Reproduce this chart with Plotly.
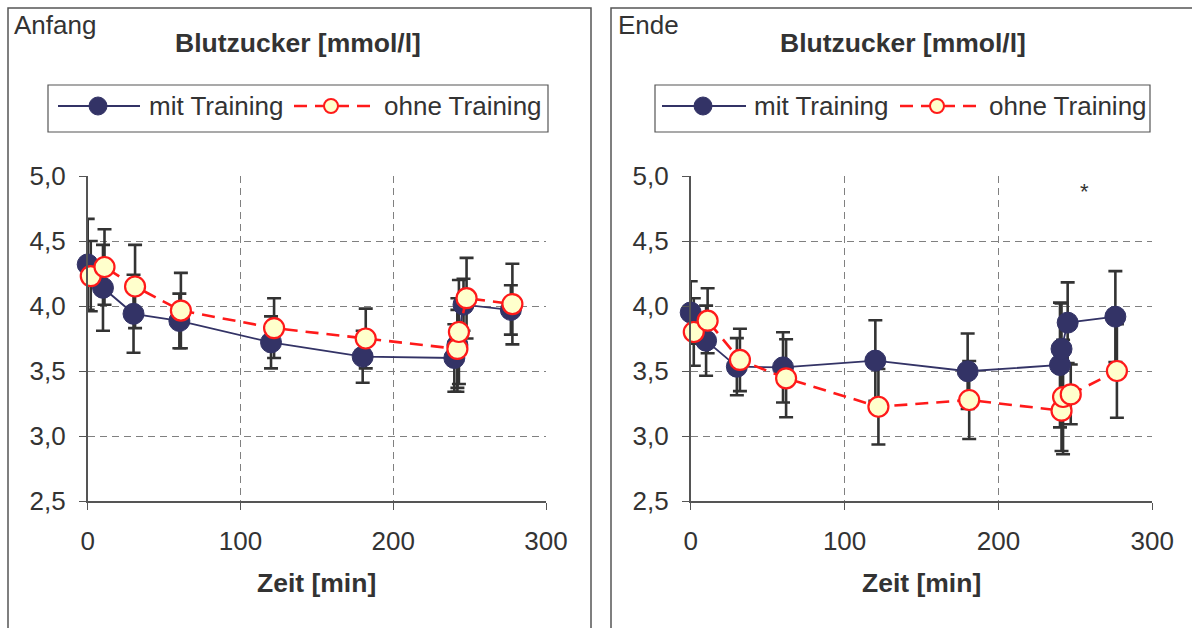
import plotly.graph_objects as go

W, H = 1192, 628

# ---------------- data ----------------
# Anfang (left panel)
a_mit_x = [0, 10, 30, 60, 120, 180, 240, 242, 246, 277]
a_mit_y = [4.32, 4.14, 3.94, 3.885, 3.72, 3.61, 3.60, 3.70, 4.01, 3.97]
a_mit_e = [0.35, 0.33, 0.30, 0.21, 0.20, 0.20, 0.26, 0.36, 0.20, 0.19]
a_ohne_x = [2, 11, 31, 61, 122, 182, 242, 243, 248, 278]
a_ohne_y = [4.23, 4.30, 4.15, 3.965, 3.83, 3.75, 3.67, 3.80, 4.06, 4.015]
a_ohne_e = [0.27, 0.29, 0.32, 0.29, 0.23, 0.23, 0.30, 0.40, 0.31, 0.31]

# Ende (right panel)
e_mit_x = [0, 10, 30, 60, 120, 180, 240, 241, 245, 276]
e_mit_y = [3.95, 3.733, 3.533, 3.528, 3.58, 3.498, 3.546, 3.67, 3.872, 3.918]
e_mit_e = [0.24, 0.27, 0.22, 0.27, 0.31, 0.29, 0.48, 0.35, 0.31, 0.35]
e_ohne_x = [2, 11, 32, 62, 122, 181, 241, 242, 247, 277]
e_ohne_y = [3.80, 3.887, 3.585, 3.444, 3.225, 3.277, 3.195, 3.30, 3.32, 3.50]
e_ohne_e = [0.26, 0.25, 0.24, 0.30, 0.29, 0.30, 0.31, 0.44, 0.23, 0.36]

x_ticks = [0, 100, 200, 300]
y_ticks = [2.5, 3.0, 3.5, 4.0, 4.5, 5.0]
panel_labels = ["Anfang", "Ende"]
title_text = "Blutzucker [mmol/l]"
x_title = "Zeit [min]"
series_names = ["mit Training", "ohne Training"]
star_x, star_y = 256, 4.88

# ---------------- styles ----------------
NAVY = "#333366"
RED = "#FF1A1A"
FILL = "#FFFFCC"
TXT = "#333333"
ERR = "#333333"
FONT = "Liberation Sans, Arial, sans-serif"
FS = 26
FS_B = 26.5


def px(x):
    return x / W


def py(y):
    return 1 - y / H


fig = go.Figure()

panels = [
    dict(mx=a_mit_x, my=a_mit_y, me=a_mit_e, ox=a_ohne_x, oy=a_ohne_y, oe=a_ohne_e,
         xa="x", ya="y"),
    dict(mx=e_mit_x, my=e_mit_y, me=e_mit_e, ox=e_ohne_x, oy=e_ohne_y, oe=e_ohne_e,
         xa="x2", ya="y2"),
]

for p in panels:
    for xs, ys, es in [(p["mx"], p["my"], p["me"]), (p["ox"], p["oy"], p["oe"])]:
        fig.add_trace(go.Scatter(
            x=xs, y=ys, mode="markers", xaxis=p["xa"], yaxis=p["ya"],
            marker=dict(size=1, color="rgba(0,0,0,0)"),
            error_y=dict(type="data", array=es, color=ERR, thickness=2.6, width=7),
            showlegend=False, hoverinfo="skip", cliponaxis=False))
    fig.add_trace(go.Scatter(
        x=p["mx"], y=p["my"], mode="lines+markers", xaxis=p["xa"], yaxis=p["ya"],
        name=series_names[0],
        line=dict(color=NAVY, width=1.8),
        marker=dict(size=21, color=NAVY, line=dict(color=NAVY, width=1)),
        showlegend=False, cliponaxis=False))
    fig.add_trace(go.Scatter(
        x=p["ox"], y=p["oy"], mode="lines+markers", xaxis=p["xa"], yaxis=p["ya"],
        name=series_names[1],
        line=dict(color=RED, width=2.6, dash="13px,8px"),
        marker=dict(size=20, color=FILL, line=dict(color=RED, width=2.2)),
        showlegend=False, cliponaxis=False))

# plot area positions (pixels)
plot_y_top, plot_y_bot = 176, 501
left_x = (87.7, 546.0)
right_x = (690.7, 1152.3)

axis_common = dict(
    showline=True, linecolor="#555555", linewidth=1.5,
    ticks="outside", ticklen=7, tickcolor="#555555", tickwidth=1.2,
    showgrid=True, gridcolor="#808080", griddash="7px,5px", gridwidth=1,
    zeroline=False, automargin=False,
    tickfont=dict(family=FONT, size=FS, color=TXT),
)

layout_axes = {}
for i, (x0, x1) in enumerate([left_x, right_x]):
    sx = "" if i == 0 else "2"
    layout_axes["xaxis" + sx] = dict(
        axis_common, domain=[px(x0), px(x1)], range=[0, 300],
        tickvals=x_ticks, anchor="y" + sx, ticklabelstandoff=9,
    )
    layout_axes["yaxis" + sx] = dict(
        axis_common, domain=[py(plot_y_bot), py(plot_y_top)], range=[2.5, 5.0],
        tickvals=y_ticks, tickformat=".1f", anchor="x" + sx, ticklabelstandoff=8,
    )

fig.update_layout(
    template="none",
    width=W, height=H, margin=dict(l=0, r=0, t=0, b=0, pad=0), autosize=False,
    paper_bgcolor="white", plot_bgcolor="white",
    separators=", ", showlegend=False,
    font=dict(family=FONT, color=TXT),
    **layout_axes,
)

shapes = []
annotations = []

# panel frames
for (bx0, bx1) in [(8, 591), (611, 1210)]:
    shapes.append(dict(type="rect", xref="paper", yref="paper",
                       x0=px(bx0), x1=px(bx1), y0=py(660), y1=py(8),
                       line=dict(color="#555555", width=1.5), fillcolor="rgba(0,0,0,0)",
                       layer="below"))

legend_cfg = [
    dict(box=(48, 548), nl=(58, 140), nc=98, nt=147, rl=(294, 375), rc=331, rt=382),
    dict(box=(655, 1150), nl=(662, 746), nc=703, nt=752, rl=(900, 981), rc=937, rt=987),
]
ly0, ly1, lyc = 85, 132, 106

for i, cfg in enumerate(legend_cfg):
    frame_x0 = [12, 616][i]
    annotations.append(dict(text=panel_labels[i], xref="paper", yref="paper",
                            x=px(frame_x0), y=py(25), xanchor="left", yanchor="middle",
                            showarrow=False, font=dict(family=FONT, size=FS, color=TXT)))
    pcx = [(left_x[0] + left_x[1]) / 2, (right_x[0] + right_x[1]) / 2][i]
    annotations.append(dict(text="<b>" + title_text + "</b>", xref="paper", yref="paper",
                            x=px(cfg["box"][0] + (cfg["box"][1] - cfg["box"][0]) / 2), y=py(43),
                            xanchor="center", yanchor="middle", showarrow=False,
                            font=dict(family=FONT, size=FS_B, color=TXT)))
    annotations.append(dict(text="<b>" + x_title + "</b>", xref="paper", yref="paper",
                            x=px(pcx), y=py(583), xanchor="center", yanchor="middle",
                            showarrow=False, font=dict(family=FONT, size=FS_B, color=TXT)))
    # legend box
    shapes.append(dict(type="rect", xref="paper", yref="paper",
                       x0=px(cfg["box"][0]), x1=px(cfg["box"][1]), y0=py(ly1), y1=py(ly0),
                       line=dict(color="#555555", width=1.2), fillcolor="white"))
    # navy entry
    shapes.append(dict(type="line", xref="paper", yref="paper",
                       x0=px(cfg["nl"][0]), x1=px(cfg["nl"][1]), y0=py(lyc), y1=py(lyc),
                       line=dict(color=NAVY, width=1.8)))
    shapes.append(dict(type="circle", xref="paper", yref="paper",
                       xsizemode="pixel", ysizemode="pixel",
                       xanchor=px(cfg["nc"]), yanchor=py(lyc),
                       x0=-9, x1=9, y0=-9, y1=9,
                       line=dict(color=NAVY, width=1), fillcolor=NAVY))
    annotations.append(dict(text=series_names[0], xref="paper", yref="paper",
                            x=px(cfg["nt"]), y=py(lyc), xanchor="left", yanchor="middle",
                            showarrow=False, font=dict(family=FONT, size=FS, color=TXT)))
    # red entry
    shapes.append(dict(type="line", xref="paper", yref="paper",
                       x0=px(cfg["rl"][0]), x1=px(cfg["rl"][1]), y0=py(lyc), y1=py(lyc),
                       line=dict(color=RED, width=2.4, dash="13px,8px")))
    shapes.append(dict(type="circle", xref="paper", yref="paper",
                       xsizemode="pixel", ysizemode="pixel",
                       xanchor=px(cfg["rc"]), yanchor=py(lyc),
                       x0=-7, x1=7, y0=-7, y1=7,
                       line=dict(color=RED, width=2), fillcolor=FILL))
    annotations.append(dict(text=series_names[1], xref="paper", yref="paper",
                            x=px(cfg["rt"]), y=py(lyc), xanchor="left", yanchor="middle",
                            showarrow=False, font=dict(family=FONT, size=FS, color=TXT)))

annotations.append(dict(text="*", xref="x2", yref="y2", x=star_x, y=star_y,
                        showarrow=False, xanchor="center", yanchor="middle",
                        font=dict(family=FONT, size=22, color=TXT)))

fig.update_layout(shapes=shapes, annotations=annotations)
fig.write_html("out.html", config={"responsive": False, "displayModeBar": False},
               post_script="document.body.style.margin='0';document.body.style.overflow='hidden';")
